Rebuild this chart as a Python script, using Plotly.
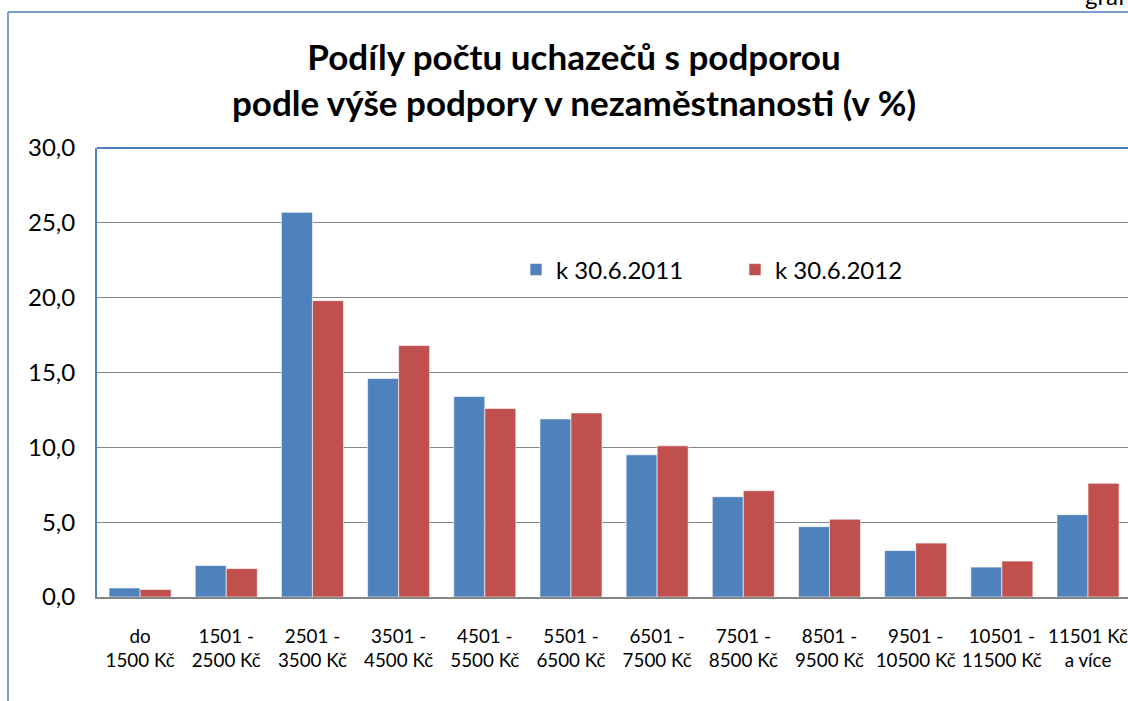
import plotly.graph_objects as go

categories = ["do<br>1500 Kč", "1501 -<br>2500 Kč", "2501 -<br>3500 Kč", "3501 -<br>4500 Kč",
              "4501 -<br>5500 Kč", "5501 -<br>6500 Kč", "6501 -<br>7500 Kč", "7501 -<br>8500 Kč",
              "8501 -<br>9500 Kč", "9501 -<br>10500 Kč", "10501 -<br>11500 Kč", "11501 Kč<br>a více"]
series_2011 = [0.6, 2.1, 25.7, 14.6, 13.4, 11.9, 9.5, 6.7, 4.7, 3.1, 2.0, 5.5]
series_2012 = [0.5, 1.9, 19.8, 16.8, 12.6, 12.3, 10.1, 7.1, 5.2, 3.6, 2.4, 7.6]
name_2011 = "k 30.6.2011"
name_2012 = "k 30.6.2012"
y_ticks = [0, 5, 10, 15, 20, 25, 30]

FONT = "Lato"
BLUE = "#4F81BD"
RED = "#C0504D"

fig = go.Figure()
fig.add_trace(go.Bar(x=categories, y=series_2011, name=name_2011,
                     marker=dict(color=BLUE, line=dict(color="rgba(255,255,255,0.6)", width=1))))
fig.add_trace(go.Bar(x=categories, y=series_2012, name=name_2012,
                     marker=dict(color=RED, line=dict(color="rgba(255,255,255,0.6)", width=1))))

W, H = 1128, 701
L, T, B = 97, 148, 104
pw = W - L
ph = H - T - B

def px_x(p):
    return (p - L) / pw

def px_y(p):
    return (H - B - p) / ph

fig.update_layout(
    width=W, height=H,
    margin=dict(l=L, r=0, t=T, b=B, pad=0),
    paper_bgcolor="white", plot_bgcolor="white",
    separators=", ",
    barmode="group", bargap=0.28, bargroupgap=0,
    font=dict(family=FONT, color="black"),
    title=dict(text="<b>Podíly počtu uchazečů s podporou<br>podle výše podpory v nezaměstnanosti (v %)</b>",
               font=dict(family=FONT, size=35, color="black"),
               x=574 / W, xanchor="center", xref="container",
               y=1 - 70 / H, yanchor="middle", yref="container"),
    legend=dict(orientation="h", x=px_x(516), xanchor="left", y=px_y(270), yanchor="middle",
                font=dict(family=FONT, size=24, color="black"),
                entrywidth=174, entrywidthmode="pixels", bgcolor="rgba(0,0,0,0)",
                traceorder="normal"),
    xaxis=dict(type="category", range=[-0.5, 11.464], showgrid=False,
               showline=True, linecolor="#868686", linewidth=2,
               ticks="", tickfont=dict(family=FONT, size=18.8, color="black"),
               ticklabelstandoff=21, tickangle=0),
    yaxis=dict(range=[0, 30], tickvals=y_ticks, tickformat=".1f",
               showgrid=True, gridcolor="#868686", gridwidth=1.3,
               showline=True, linecolor=BLUE, linewidth=2,
               ticks="", tickfont=dict(family=FONT, size=24, color="black"),
               ticklabelstandoff=15, zeroline=False),
    shapes=[
        dict(type="line", xref="paper", yref="paper", x0=0, x1=1, y0=1, y1=1,
             line=dict(color=BLUE, width=2)),
        dict(type="line", xref="paper", yref="paper", x0=px_x(8), x1=px_x(8), y0=px_y(12), y1=px_y(H + 5),
             line=dict(color=BLUE, width=1.5)),
        dict(type="line", xref="paper", yref="paper", x0=px_x(8), x1=px_x(W + 5), y0=px_y(12), y1=px_y(12),
             line=dict(color=BLUE, width=1.5)),
    ],
    annotations=[
        dict(text="graf", xref="paper", yref="paper", x=px_x(1083), y=px_y(12), xanchor="left",
             yanchor="bottom", showarrow=False, font=dict(family=FONT, size=24, color="black")),
    ],
)

fig.write_html("out.html", config={"displayModeBar": False},
               post_script="document.body.style.margin='0';document.body.style.overflow='hidden';")
